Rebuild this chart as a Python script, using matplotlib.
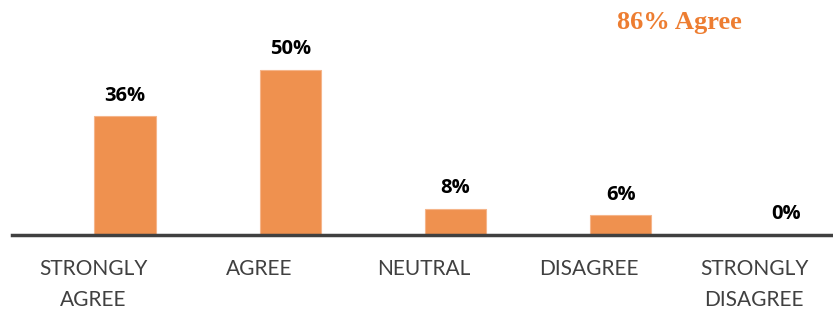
import matplotlib.pyplot as plt
import numpy as np

# survey responses
categories = ["STRONGLY\nAGREE", "AGREE", "NEUTRAL", "DISAGREE", "STRONGLY\nDISAGREE"]
percent = [36, 50, 8, 6, 0]
headline = "86% Agree"

bar_color = "#EF914F"
x = np.arange(len(categories))

fig = plt.figure(figsize=(8.33, 3.11), dpi=100)
ax = fig.add_axes([0.0144, 0.2444, 0.9856, 0.7556])

ax.bar(x, percent, width=0.37, color=bar_color, edgecolor="#F5B58A", linewidth=0.8)

for xi, v in zip(x, percent):
    ax.text(xi, v + 3.2, f"{v}%", ha="center", va="bottom", fontsize=14.5,
            fontweight="bold", family="Open Sans", color="black")

ax.set_xlim(-0.684, 4.286)
ax.set_ylim(0, 71.2)

# category labels sit a little left of the bars (as in the original)
ax.set_xticks(x - 0.19)
ax.set_xticklabels(categories, fontsize=15, family="Lato", color="#404040",
                   linespacing=1.7)
ax.tick_params(axis="x", length=0, pad=17)
ax.set_yticks([])

for s in ["top", "right", "left"]:
    ax.spines[s].set_visible(False)
ax.spines["bottom"].set_color("#404040")
ax.spines["bottom"].set_linewidth(2.5)

fig.text(0.816, 0.928, headline, ha="center", va="center", fontsize=19,
         fontweight="bold", family="Liberation Serif", color="#ED7D31")

fig.savefig("out.png", dpi=100)
